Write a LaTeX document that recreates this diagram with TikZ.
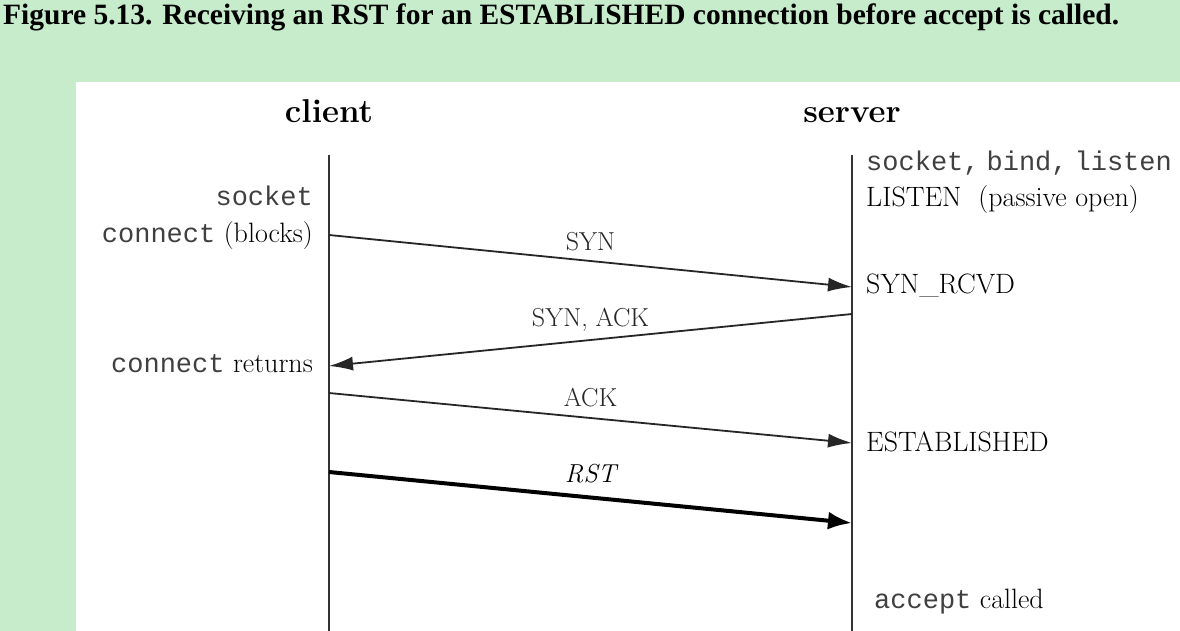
\documentclass[tikz,border=0pt]{standalone}
\usepackage{fontspec}
\newfontfamily\titlefont{Liberation Serif}
\newfontfamily\codefont{Liberation Mono}
\usetikzlibrary{arrows.meta}
\definecolor{pagegreen}{RGB}{199,236,203}

\tikzset{
  lifeline/.style={line width=1.8pt, black!80},
  msg/.style={line width=1.8pt, black!85, -{Latex[length=24pt,width=14pt]}},
  rstmsg/.style={line width=4pt, black, -{Latex[length=24pt,width=18pt]}},
  msglabel/.style={inner sep=0pt, font=\fontsize{26}{30}\selectfont},
  state/.style={inner sep=0pt, font=\fontsize{28}{32}\selectfont},
  head/.style={inner sep=0pt, font=\fontsize{33}{38}\selectfont\bfseries},
}
\newcommand{\code}[1]{{\codefont\fontsize{27}{30}\selectfont\color{black!75}#1}}

\begin{document}
\begin{tikzpicture}[x=1pt, y=-1pt]

\def \xclient   {329}
\def \xserver   {852}
\def \ytop      {155}
\def \ybot      {631}

\useasboundingbox (0,0) rectangle (1180,631);
% background
\fill [pagegreen] (0,0) rectangle (1180,631);
\fill [white] (76,82) rectangle (1180,631);
% caption
\node [anchor=base west, inner sep=0pt, font=\titlefont\fontsize{29.5}{34}\selectfont\bfseries] (caption) at (3,25)
  {Figure 5.13. Receiving an RST for an ESTABLISHED connection before accept is called.};

% end points
\node [head, anchor=base] (client) at (\xclient, 123) {client};
\node [head, anchor=base] (server) at (\xserver, 123) {server};
\coordinate (clientTop) at (\xclient, \ytop);
\coordinate (clientBot) at (\xclient, \ybot);
\coordinate (serverTop) at (\xserver, \ytop);
\coordinate (serverBot) at (\xserver, \ybot);
\draw [lifeline] (clientTop) -- (clientBot);
\draw [lifeline] (serverTop) -- (serverBot);

% client states
\node [state, anchor=base east] (csock) at (313, 205) {\code{socket}};
\node [state, anchor=base east] (cconn) at (313, 242) {\code{connect} (blocks)};
\node [state, anchor=base east] (cret)  at (313, 372) {\code{connect} returns};

% server states
\node [state, anchor=base west] (slisten) at (866, 171) {\code{socket,}\hspace{7pt}\code{bind,}\hspace{7pt}\code{listen}};
\node [state, anchor=base west] (spass)   at (866, 207) {LISTEN\ \ (passive open)};
\node [state, anchor=base west] (srcvd)   at (866, 293) {SYN\_RCVD};
\node [state, anchor=base west] (sest)    at (866, 451) {ESTABLISHED};
\node [state, anchor=base west] (sacc)    at (874, 608) {\code{accept} called};

% segments
\coordinate (synC)    at (\xclient, 235);
\coordinate (synS)    at (\xserver, 287);
\coordinate (synackS) at (\xserver, 314);
\coordinate (synackC) at (\xclient, 366);
\coordinate (ackC)    at (\xclient, 393);
\coordinate (ackS)    at (\xserver, 443);
\coordinate (rstC)    at (\xclient, 472);
\coordinate (rstS)    at (\xserver, 523);

\draw [msg] (synC) -- node [msglabel, above=9pt] {SYN} (synS);
\draw [msg] (synackS) -- node [msglabel, above=8pt] {SYN, ACK} (synackC);
\draw [msg] (ackC) -- node [msglabel, above=10pt] {ACK} (ackS);
\draw [rstmsg] (rstC) -- node [msglabel, above=12pt] {\itshape RST} (rstS);

\end{tikzpicture}
\end{document}
